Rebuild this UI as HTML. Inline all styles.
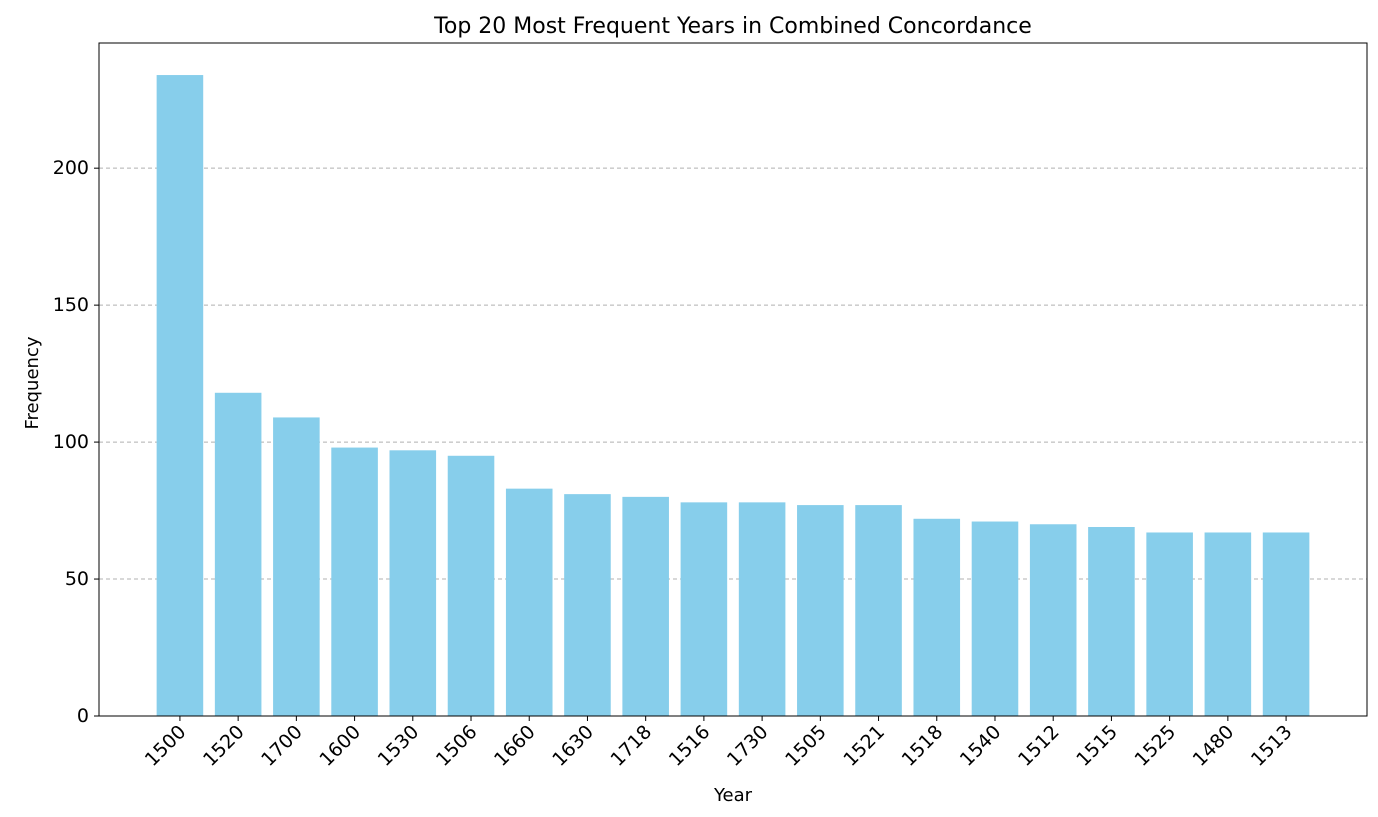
<!DOCTYPE html>
<html><head><meta charset="utf-8"><style>
html,body{margin:0;padding:0;background:#fff;}
svg{display:block;font-family:"DejaVu Sans","Liberation Sans",sans-serif;}
</style></head><body>
<svg id="chart" width="1378" height="817" viewBox="0 0 1378 817">
<text x="733" y="33" text-anchor="middle" font-size="22" fill="#000">Top 20 Most Frequent Years in Combined Concordance</text>
<g id="grid"></g><g id="bars"></g><g id="xticks"></g><g id="yticks"></g>
<rect x="99" y="43" width="1268" height="673" fill="none" stroke="#000" stroke-width="1"/>
<text x="733" y="801" text-anchor="middle" font-size="18">Year</text>
<text transform="translate(38,383) rotate(-90)" text-anchor="middle" font-size="18">Frequency</text>
</svg>
<script>
const categories=["1500","1520","1700","1600","1530","1506","1660","1630","1718","1516","1730","1505","1521","1518","1540","1512","1515","1525","1480","1513"];
const values=[234,118,109,98,97,95,83,81,80,78,78,77,77,72,71,70,69,67,67,67];
const yTicks=[0,50,100,150,200];
const NS="http://www.w3.org/2000/svg";
const L=99,R=1367,T=43,B=716;
const xmin=-1.39,xmax=categories.length-1+1.39;
const ymax=Math.max(...values)*1.05;
const x=i=>L+(i-xmin)/(xmax-xmin)*(R-L);
const y=v=>B-v/ymax*(B-T);
const bw=0.8*(R-L)/(xmax-xmin);
function mk(t,a,p){const e=document.createElementNS(NS,t);for(const k in a)e.setAttribute(k,a[k]);p.appendChild(e);return e;}
const g=document.getElementById('grid'),bars=document.getElementById('bars'),xt=document.getElementById('xticks'),yt=document.getElementById('yticks');
yTicks.forEach(v=>{
 if(v>0){const l=mk('line',{x1:L,x2:R,y1:y(v),y2:y(v),stroke:'#b0b0b0','stroke-dasharray':'4,3','stroke-width':1},g);
 
 }
 const tk=mk('line',{x1:L-5,x2:L,y1:y(v),y2:y(v),stroke:'#000'},yt);
 
 
 const tx=mk('text',{x:L-10,y:y(v)+6,'text-anchor':'end','font-size':19},yt);tx.textContent=v;
 
 
});
categories.forEach((c,i)=>{
 const r=mk('rect',{x:x(i)-bw/2,y:y(values[i]),width:bw,height:B-y(values[i]),fill:'#87ceeb'},bars);
 
 
 const tk=mk('line',{x1:x(i),x2:x(i),y1:B,y2:B+5,stroke:'#000'},xt);
 
 
 const tx=mk('text',{transform:`translate(${x(i)+7},${B+17}) rotate(-45)`,'text-anchor':'end','font-size':19},xt);tx.textContent=c;
 
 
});
</script>
</body></html>
